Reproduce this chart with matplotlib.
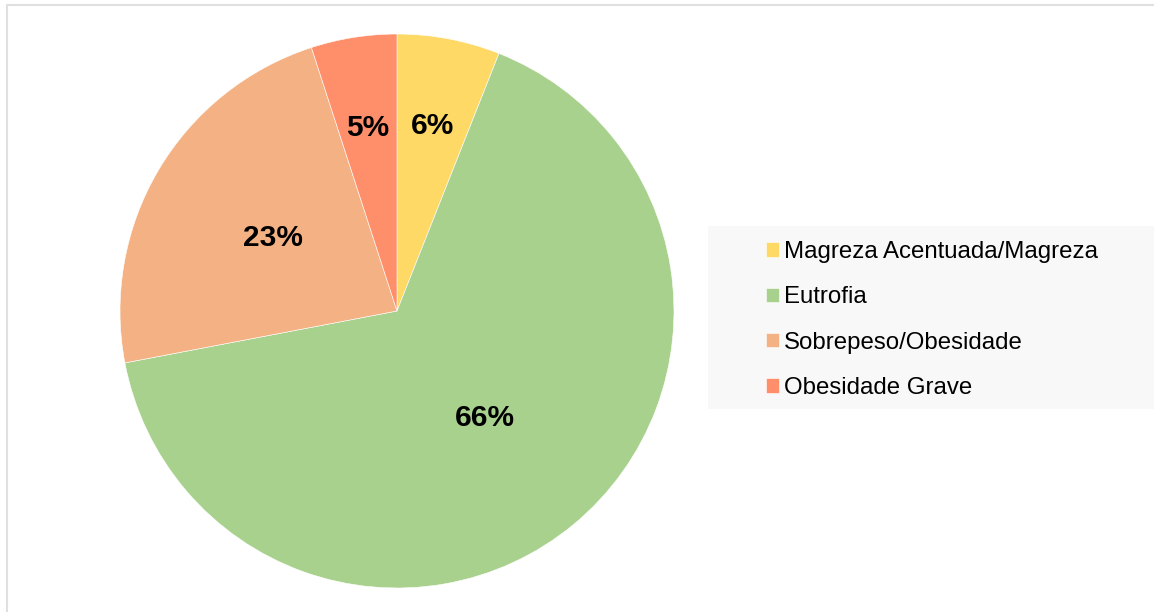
import numpy as np
import matplotlib.pyplot as plt
from matplotlib.patches import Rectangle

plt.rcParams["font.family"] = ["Liberation Sans", "DejaVu Sans"]

categories = ["Magreza Acentuada/Magreza", "Eutrofia", "Sobrepeso/Obesidade", "Obesidade Grave"]
values = [6, 66, 23, 5]
colors = ["#FFD966", "#A9D18E", "#F4B183", "#FF8F6B"]
# label distance from centre, as a fraction of the radius
label_dist = [0.68, 0.50, 0.52, 0.67]

W, H = 1154, 612
fig = plt.figure(figsize=(W / 100, H / 100), dpi=100)

# outer chart border (only the top and left edges fall inside the image)
fig.patches.append(Rectangle((7 / W, -0.2), 1.2, (H - 5) / H + 0.2, transform=fig.transFigure,
                             facecolor="none", edgecolor="#E0E0E0", linewidth=1.5))

cx, cy, r = 397, 311, 277
ax = fig.add_axes([(cx - r) / W, (H - cy - r) / H, 2 * r / W, 2 * r / H])
wedges, _ = ax.pie(values, colors=colors, startangle=90, counterclock=False,
                   wedgeprops=dict(edgecolor="white", linewidth=0.4))
ax.set_xlim(-1, 1)
ax.set_ylim(-1, 1)
ax.set_aspect("equal")
ax.axis("off")

for w, v, d in zip(wedges, values, label_dist):
    ang = np.deg2rad((w.theta1 + w.theta2) / 2)
    ax.text(d * np.cos(ang), d * np.sin(ang), f"{v}%", ha="center", va="center",
            fontsize=21.5, fontweight="bold", color="black")

# legend background panel
fig.patches.append(Rectangle((708 / W, (H - 409) / H), (W - 708) / W, 183 / H,
                             transform=fig.transFigure, facecolor="#F8F8F8",
                             edgecolor="none", zorder=0))

fig.legend(wedges, categories, loc="upper left", bbox_to_anchor=(766 / W, (H - 241) / H),
           frameon=False, fontsize=17.3, handlelength=0.55, handleheight=0.55,
           handletextpad=0.2, labelspacing=0.97, borderpad=0, borderaxespad=0)

fig.savefig("out.png", dpi=100)
